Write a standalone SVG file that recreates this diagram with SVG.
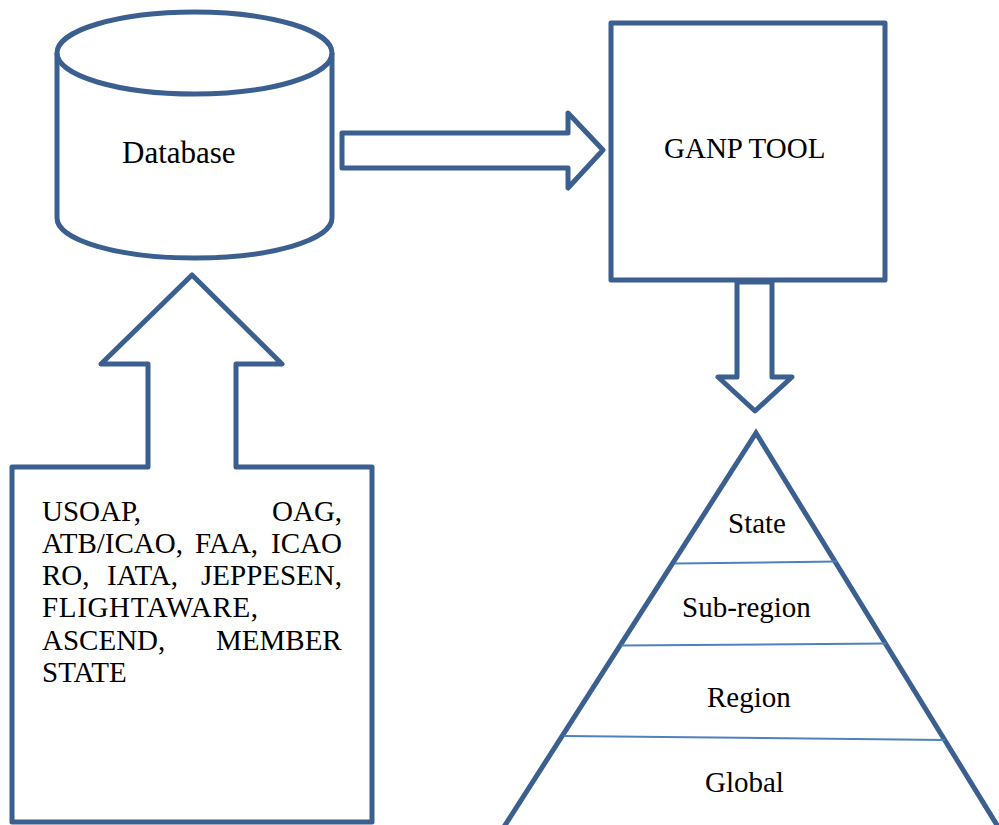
<svg xmlns="http://www.w3.org/2000/svg" width="999" height="825" viewBox="0 0 999 825">
  <style>
    .shape { fill: #ffffff; stroke: #3b5f8e; stroke-width: 5; stroke-linejoin: round; }
    .divider { fill: none; stroke: #4f81bd; stroke-width: 2; }
    .label { font-family: "Liberation Serif", "Times New Roman", serif; font-size: 29px; fill: #000000; }
  </style>
  <rect width="999" height="825" fill="#ffffff"/>

  <!-- Database cylinder -->
  <g id="database">
    <path class="shape" d="M57,53 L57,218 A137.5,40 0 0 0 332,218 L332,53 A137.5,41 0 0 0 57,53 Z"/>
    <path class="shape" style="fill:none" d="M57,53 A137.5,41 0 0 0 332,53"/>
    <text class="label" x="122" y="163" style="font-size:31px">Database</text>
  </g>

  <!-- GANP tool box -->
  <g id="ganp-tool">
    <rect class="shape" x="611" y="23" width="274" height="257"/>
    <text class="label" x="664" y="158">GANP TOOL</text>
  </g>

  <!-- Data sources box with upward arrow; justified text set word by word -->
  <g id="sources">
    <path class="shape" d="M192,275 L282,364 L236,364 L236,467 L372,467 L372,822 L12,822 L12,467 L148,467 L148,364 L101,364 Z"/>
    <text class="label" x="42" y="521">USOAP,</text>
    <text class="label" x="272" y="521">OAG,</text>
    <text class="label" x="42" y="553">ATB/ICAO,</text>
    <text class="label" x="195" y="553">FAA,</text>
    <text class="label" x="271" y="553">ICAO</text>
    <text class="label" x="42" y="585">RO,</text>
    <text class="label" x="107" y="585">IATA,</text>
    <text class="label" x="201" y="585">JEPPESEN,</text>
    <text class="label" x="42" y="617" textLength="216" lengthAdjust="spacing">FLIGHTAWARE,</text>
    <text class="label" x="42" y="650">ASCEND,</text>
    <text class="label" x="216" y="650">MEMBER</text>
    <text class="label" x="42" y="682">STATE</text>
  </g>

  <!-- Level pyramid -->
  <g id="pyramid">
    <path class="shape" style="stroke-linejoin:miter" d="M502,830 L756,433 L1000,830"/>
    <line class="divider" x1="675" y1="563.5" x2="837" y2="561.5"/>
    <line class="divider" x1="621" y1="645.5" x2="886" y2="643.5"/>
    <line class="divider" x1="564" y1="736" x2="945" y2="740"/>
    <text class="label" x="728" y="533">State</text>
    <text class="label" x="682" y="617">Sub-region</text>
    <text class="label" x="707" y="707">Region</text>
    <text class="label" x="705" y="792">Global</text>
  </g>

  <!-- Block arrows between stages -->
  <g id="connectors">
    <path class="shape" d="M342,133 L568,133 L568,113 L603,150 L568,188 L568,168 L342,168 Z"/>
    <path class="shape" d="M737,282 L772,282 L772,377 L792,377 L755,411 L718,377 L737,377 Z"/>
  </g>
</svg>
